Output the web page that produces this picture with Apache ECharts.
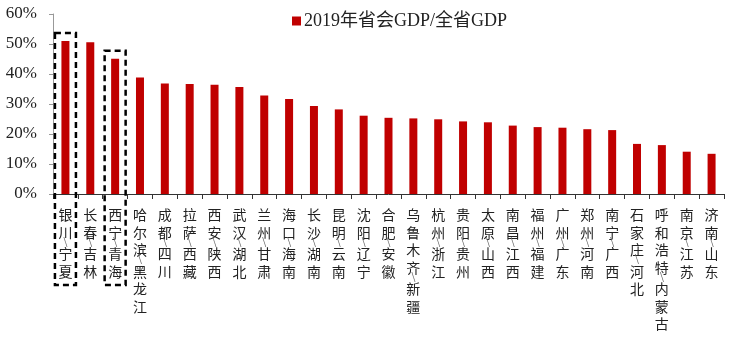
<!DOCTYPE html>
<html><head><meta charset="utf-8">
<script src="https://cdn.jsdelivr.net/npm/echarts@6/dist/echarts.min.js"></script>
<style>html,body{margin:0;padding:0;background:#fff}#c{width:734px;height:340px}</style>
</head><body><div id="c"></div>
<script>
const categories = ['银川/宁夏','长春/吉林','西宁/青海','哈尔滨/黑龙江','成都/四川','拉萨/西藏','西安/陕西','武汉/湖北','兰州/甘肃','海口/海南','长沙/湖南','昆明/云南','沈阳/辽宁','合肥/安徽','乌鲁木齐/新疆','杭州/浙江','贵阳/贵州','太原/山西','南昌/江西','福州/福建','广州/广东','郑州/河南','南宁/广西','石家庄/河北','呼和浩特/内蒙古','南京/江苏','济南/山东'];
const values = [51.0,50.6,45.1,38.8,36.8,36.7,36.4,35.7,32.8,31.7,29.3,28.2,26.1,25.4,25.2,24.9,24.2,23.9,22.8,22.3,22.1,21.6,21.3,16.7,16.3,14.1,13.4];
const seriesName = '2019年省会GDP/全省GDP';
const highlighted = ['银川/宁夏','西宁/青海'];
const yMin = 0, yMax = 60, yInterval = 10;

const serif = "'Liberation Serif','Noto Sans CJK SC',serif";
const chart = echarts.init(document.getElementById('c'), null, {renderer:'canvas'});
chart.setOption({
  animation:false,
  backgroundColor:'#fff',
  grid:{left:53,right:10,top:14,bottom:146,containLabel:false},
  legend:{
    data:[seriesName], top:7, left:287, itemWidth:9, itemHeight:9, itemGap:3,
    icon:'rect',
    textStyle:{fontFamily:serif,fontSize:18,color:'#222',padding:[0,0,0,-2]}
  },
  xAxis:{
    type:'category', data:categories,
    axisLine:{lineStyle:{color:'#333',width:1}},
    axisTick:{show:true,length:5,alignWithLabel:false,lineStyle:{color:'#333'}},
    axisLabel:{
      interval:0, margin:12, verticalAlign:'top',
      formatter:function(v){
        return v.split('').map(ch => ch==='/' ? '{s|\\}' : '{c|'+ch+'}').join('\n');
      },
      rich:{
        c:{fontFamily:"'Noto Sans CJK SC'",fontSize:14,lineHeight:17.5,color:'#222'},
        s:{fontFamily:serif,fontSize:14,lineHeight:4,color:'#666'}
      }
    }
  },
  yAxis:{
    type:'value', min:yMin, max:yMax, interval:yInterval,
    axisLine:{show:true,lineStyle:{color:'#999'}},
    axisTick:{show:true,length:4,lineStyle:{color:'#999'}},
    splitLine:{show:false},
    axisLabel:{formatter:'{value}%',fontFamily:serif,fontSize:17,color:'#222',margin:16}
  },
  series:[{
    name:seriesName, type:'bar', data:values, barWidth:8,
    itemStyle:{color:'#C00000'}
  }]
});

const zeroY = chart.convertToPixel({gridIndex:0},[categories[0],0])[1];
const boxes = highlighted.map(cat => {
  const i = categories.indexOf(cat);
  const p = chart.convertToPixel({gridIndex:0},[cat, values[i]]);
  const top = p[1]-8, bottom = zeroY+91;
  return {type:'rect', shape:{x:p[0]-10.5,y:top,width:21,height:bottom-top},
    style:{fill:null,stroke:'#000',lineWidth:2.5,lineDash:[6,4]}, z:100};
});
chart.setOption({graphic:boxes});
</script></body></html>
